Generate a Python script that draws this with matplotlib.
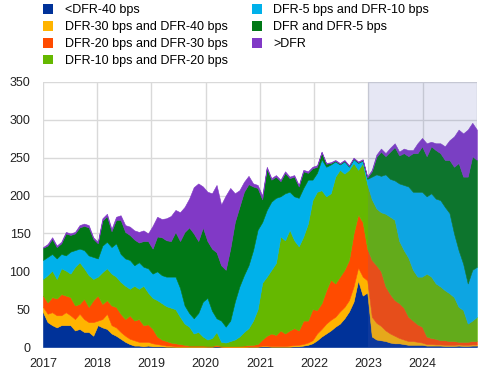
import pandas as pd
import numpy as np
import matplotlib
matplotlib.use("Agg")
import matplotlib.pyplot as plt
from matplotlib.patches import Patch

plt.rcParams['font.family'] = ['Liberation Sans', 'DejaVu Sans']

# monthly readings, Jan 2017 - Dec 2024 (EUR bn)
below_40 = [46, 33, 29, 26, 29, 29, 29, 22, 24, 20, 20, 15,
            29, 26, 24, 18, 15, 11, 7, 4, 2, 2, 1, 2,
            1, 1, 1, 0.5, 0.5, 0.3, 0.3, 0.3, 0.3, 0.3, 0.3, 0.3,
            0.5, 0.5, 1, 0.5, 0.3, 0.3, 0.3, 0.3, 0.3, 0.5, 0.5, 0.5,
            1, 1, 0.5, 0.5, 0.5, 0.5, 0.5, 1, 1, 2, 3, 5,
            9, 14, 18, 22, 27, 31, 38, 47, 60, 88, 68, 72,
            14, 10, 9, 8, 6, 5, 5, 4, 3, 3, 3, 3,
            2, 2, 2, 2, 1.5, 1.5, 1.5, 2, 1.5, 1.5, 2, 2]
b30_40 = [7, 11, 17, 16, 13, 17, 13, 15, 20, 17, 13, 18,
          6, 11, 20, 11, 11, 9, 8, 7, 7, 5, 6, 5,
          4, 3, 2, 1.5, 1.5, 0.7, 0.7, 0.7, 0.7, 0.7, 0.7, 0.7,
          0.5, 0.5, 0.5, 0.5, 0.5, 0.5, 0.5, 0.5, 0.5, 0.5, 0.5, 0.5,
          1, 1, 1, 1, 1, 1, 1.5, 1.5, 2, 2, 3, 4,
          9, 10, 13, 14, 13, 16, 15, 15, 20, 17, 25, 16,
          26, 22, 19, 14, 12, 10, 7, 6, 5, 5, 4, 3,
          2, 2, 1.5, 1.5, 1.5, 1.5, 1.5, 1.5, 1.5, 1.5, 1.5, 1.5]
b20_30 = [15, 15, 20, 22, 28, 22, 24, 18, 13, 27, 20, 29,
          33, 20, 18, 26, 27, 24, 22, 31, 26, 30, 22, 23,
          19, 10, 7, 6, 4, 4, 3, 2, 1, 1, 1, 1,
          0.5, 0.5, 1.5, 0.5, 0.4, 0.4, 0.4, 0.7, 1.2, 1.5, 2, 3,
          8, 13, 16.5, 14.5, 20.5, 16.5, 20, 22.5, 19, 31, 29, 41,
          31, 34, 44, 53, 44, 46, 49, 53, 70, 70, 72, 42,
          75, 76, 72, 58, 52, 47, 46, 42, 32, 27, 23, 21,
          10, 8, 7.5, 5.5, 6, 5, 5, 3.5, 4, 4, 4.5, 4.5]
b10_20 = [22, 36, 35, 26, 34, 33, 31, 51, 55, 40, 42, 28,
          25, 42, 42, 42, 40, 42, 44, 35, 46, 40, 52, 42,
          41, 48, 48, 46, 46, 45, 36, 28, 25, 16, 18, 12,
          8.5, 10.5, 17, 5.5, 4.8, 6.8, 8.8, 12.5, 18, 22.5, 32, 46,
          75, 78, 84, 95, 124, 123, 133, 116, 111, 111, 128, 144,
          156, 149, 124, 114, 141, 141, 127, 119, 93, 59, 78, 85,
          80, 75, 78, 96, 102, 106, 82, 76, 78, 67, 63, 66,
          83, 81, 73, 71, 66, 63, 58, 46, 42, 24, 27, 32]
b5_10 = [25, 24, 22, 27, 19, 20, 29, 22, 18, 24, 26, 29,
         24, 35, 35, 35, 44, 37, 36, 38, 27, 35, 25, 32,
         32, 38, 37, 39, 41, 43, 38, 24, 18, 20, 25, 46,
         55, 36, 18, 28, 21, 27, 50, 66, 75, 83, 93, 105,
         80, 88, 90, 86, 53, 62, 50, 58, 64, 64, 58, 27,
         25, 41, 39, 38, 20, 7, 16, 4, 5, 9, 3, 7,
         30, 45, 48, 52, 50, 52, 76, 86, 94, 103, 112, 112,
         102, 110, 112, 114, 110, 106, 84, 75, 61, 53, 67, 66]
b0_5 = [16, 15, 20, 15, 14, 29, 22, 22, 28, 32, 37, 24,
        20, 33, 34, 21, 31, 45, 35, 33, 34, 26, 34, 36,
        33, 46, 50, 48, 47, 59, 62, 97, 113, 112, 95, 98,
        75, 82, 87, 73, 75, 95, 105, 105, 110, 107, 84, 55,
        30, 55, 29, 28, 20, 27, 18, 26, 15, 22, 9, 15,
        8, 9, 4, 2, 1, 1, 1, 1, 1, 1, 1, 2,
        7, 23, 32, 24, 36, 44, 37, 42, 40, 51, 51, 60,
        53, 62, 64, 62, 62, 70, 88, 115, 115, 141, 150, 141]
above = [1, 2, 2, 2, 2, 2, 2, 2, 3, 3, 3, 2,
         2, 3, 3, 3, 4, 6, 9, 11, 12, 14, 14, 10,
         30, 26, 24, 29, 33, 29, 38, 33, 38, 61, 76, 54,
         65, 73, 89, 80, 98, 80, 38, 22, 13, 11, 4, 4,
         5, 2, 2, 2, 2, 2, 2, 2, 2, 2, 2, 2,
         2, 1, 1, 1, 1, 1, 1, 1, 1, 1, 1, 1,
         2, 3, 4, 4, 5, 5, 5, 6, 8, 4, 13, 11,
         17, 6, 9, 13, 18, 26, 40, 44, 57, 62, 44, 40]

labels = ["<DFR-40 bps", "DFR-30 bps and DFR-40 bps", "DFR-20 bps and DFR-30 bps",
          "DFR-10 bps and DFR-20 bps", "DFR-5 bps and DFR-10 bps",
          "DFR and DFR-5 bps", ">DFR"]
colors = ["#003299", "#ffb400", "#ff4b00", "#65b800", "#00b1ea", "#007816", "#8139c6"]
years = list(range(2017, 2025))

dates = pd.date_range("2017-01-01", "2024-12-31", periods=len(below_40))
series = [below_40, b30_40, b20_30, b10_20, b5_10, b0_5, above]

fig = plt.figure(figsize=(4.96, 3.90), dpi=100)
ax = fig.add_axes([0.0867, 0.110, 0.875, 0.680])

polys = ax.stackplot(dates, *series, colors=colors, zorder=2)
for p, c in zip(polys, colors):
    p.set_edgecolor(c)
    p.set_linewidth(0.4)

# shaded period 2023-2024
ax.axvspan(pd.Timestamp("2023-01-01"), pd.Timestamp("2025-01-01"),
           color="#5864b6", alpha=0.15, lw=0, zorder=3)

ticks = [pd.Timestamp(f"{y}-01-01") for y in years + [2025]]
ax.set_xticks(ticks)
ax.set_xticklabels([str(y) for y in years] + [""])
ax.set_xlim(pd.Timestamp("2017-01-01"), pd.Timestamp("2025-01-01"))
ax.set_ylim(0, 350)
ax.set_yticks(range(0, 351, 50))
ax.grid(True, color="#d9d9d9", linewidth=1, zorder=0)
ax.set_axisbelow(True)
for s in ax.spines.values():
    s.set_visible(False)
ax.tick_params(length=0, labelsize=9, colors="#222222")
ax.tick_params(axis="y", pad=9)
ax.tick_params(axis="x", pad=8)

handles = [Patch(facecolor=c, edgecolor="none") for c in colors]
fig.legend(handles, labels, loc="upper left", bbox_to_anchor=(0.0867, 0.989),
           ncol=2, frameon=False, fontsize=9, handlelength=0.8, handleheight=0.8,
           handletextpad=0.94, columnspacing=1.9, labelspacing=0.38,
           borderpad=0, borderaxespad=0)

fig.savefig("out.png", dpi=100)
